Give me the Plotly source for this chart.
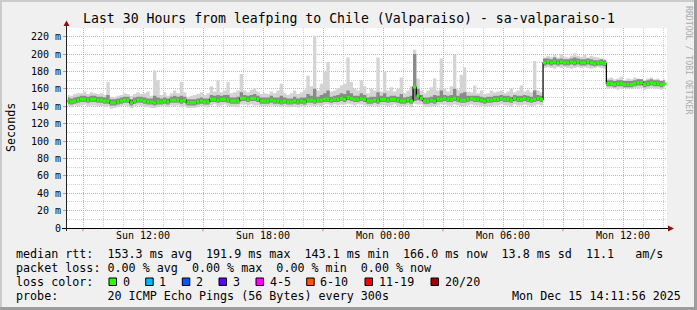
import pandas as pd
import plotly.graph_objects as go

# ---------------- data (10-minute samples, Sun 08:15 .. Mon 14:05) ----------------
START = "2025-12-14 08:15"
N = 180

median = [
    146, 145, 146, 147, 148, 148, 147, 148, 148, 147,
    147, 146, 146, 144, 144, 145, 146, 147, 147, 144,
    146, 147, 147, 146, 145, 145, 144, 145, 145, 146,
    145, 147, 147, 147, 146, 147, 144, 144, 144, 145,
    146, 145, 145, 148, 148, 147, 148, 148, 147, 146,
    146, 146, 149, 149, 148, 149, 149, 148, 146, 146,
    146, 147, 146, 146, 145, 146, 145, 145, 146, 145,
    146, 145, 147, 147, 146, 147, 147, 148, 148, 147,
    148, 148, 149, 148, 150, 149, 148, 148, 149, 148,
    146, 146, 147, 146, 148, 148, 147, 148, 148, 147,
    146, 146, 147, 146, 162, 152, 149, 146, 146, 147,
    146, 148, 148, 149, 148, 148, 149, 148, 147, 147,
    148, 149, 148, 148, 147, 146, 147, 147, 148, 148,
    149, 148, 148, 147, 149, 148, 148, 149, 148, 147,
    148, 149, 148,
    190, 191, 190, 191, 190, 191, 190, 190, 191,
    190, 191, 190, 190, 191, 190, 189, 190, 190, 189,
    166, 166, 165, 166, 166, 165, 165, 165, 166, 167,
    167, 165, 166, 167, 166, 166, 165, 166,
]

smoke_max = [
    153, 152, 154, 155, 155, 157, 154, 156, 155, 154,
    155, 153, 168, 151, 150, 152, 153, 155, 154, 152,
    154, 156, 154, 155, 157, 152, 181, 170, 153, 156,
    152, 155, 158, 155, 168, 156, 151, 152, 153, 154,
    156, 153, 155, 163, 157, 170, 156, 158, 168, 155,
    156, 158, 177, 158, 156, 159, 161, 157, 154, 155,
    154, 157, 155, 158, 166, 155, 153, 155, 158, 154,
    156, 159, 175, 163, 221, 158, 166, 180, 191, 157,
    158, 161, 164, 166, 196, 168, 160, 158, 170, 163,
    155, 160, 158, 196, 157, 180, 158, 162, 157, 160,
    173, 155, 158, 163, 205, 172, 158, 155, 158, 162,
    172, 158, 195, 160, 157, 163, 199, 159, 176, 185,
    157, 156, 164, 155, 158, 154, 155, 158, 156, 157,
    158, 155, 157, 160, 156, 158, 164, 157, 159, 156,
    192, 158, 156,
    196, 198, 197, 199, 196, 200, 197, 196, 198,
    201, 198, 197, 199, 196, 198, 197, 196, 195, 194,
    172, 173, 171, 172, 174, 170, 172, 171, 173, 172,
    171, 170, 172, 173, 171, 172, 170, 171,
]

smoke_min = [
    140, 139, 141, 140, 141, 142, 140, 141, 141, 140,
    140, 139, 140, 137, 138, 139, 140, 141, 140, 138,
    140, 141, 140, 139, 139, 138, 138, 139, 140, 140,
    139, 141, 140, 141, 139, 140, 138, 138, 138, 139,
    140, 139, 139, 141, 142, 140, 141, 142, 140, 140,
    140, 139, 142, 142, 141, 142, 141, 141, 140, 140,
    140, 141, 140, 140, 139, 140, 139, 139, 140, 139,
    140, 139, 141, 141, 140, 141, 140, 142, 142, 141,
    142, 141, 142, 142, 143, 142, 141, 142, 142, 141,
    140, 140, 141, 139, 141, 141, 140, 141, 142, 140,
    140, 140, 141, 139, 143, 142, 142, 140, 139, 140,
    140, 141, 142, 142, 141, 141, 142, 141, 140, 140,
    141, 142, 141, 141, 140, 139, 140, 140, 141, 141,
    142, 141, 141, 140, 142, 141, 141, 142, 141, 140,
    141, 142, 141,
    184, 185, 184, 183, 185, 184, 185, 184, 183,
    184, 185, 184, 185, 184, 183, 184, 185, 184, 183,
    160, 161, 160, 159, 160, 161, 160, 160, 161, 160,
    161, 159, 160, 161, 160, 160, 159, 160,
]

core_lo = [
    143, 142, 143, 144, 145, 145, 144, 145, 145, 144,
    144, 143, 143, 141, 141, 142, 143, 144, 144, 141,
    143, 144, 144, 143, 142, 142, 141, 142, 142, 143,
    142, 144, 144, 144, 143, 144, 141, 141, 141, 142,
    143, 142, 142, 145, 145, 144, 145, 145, 144, 143,
    143, 143, 146, 146, 145, 146, 146, 145, 143, 143,
    143, 144, 143, 143, 142, 143, 142, 142, 143, 142,
    143, 142, 144, 144, 143, 144, 144, 145, 145, 144,
    145, 145, 146, 145, 147, 146, 145, 145, 146, 145,
    143, 143, 144, 143, 145, 145, 144, 145, 145, 144,
    143, 143, 144, 143, 146, 147, 146, 143, 143, 144,
    143, 145, 145, 146, 145, 145, 146, 145, 144, 144,
    145, 146, 145, 145, 144, 143, 144, 144, 145, 145,
    146, 145, 145, 144, 146, 145, 145, 146, 145, 144,
    145, 146, 145,
    187, 188, 187, 188, 187, 188, 187, 187, 188,
    187, 188, 187, 187, 188, 187, 186, 187, 187, 186,
    163, 163, 162, 163, 163, 162, 162, 162, 163, 164,
    164, 162, 163, 164, 163, 163, 162, 163,
]

core_hi = [
    150, 149, 150, 151, 152, 152, 151, 152, 152, 151,
    151, 150, 153, 148, 148, 149, 150, 151, 151, 148,
    150, 151, 151, 150, 149, 149, 152, 150, 149, 150,
    149, 151, 152, 151, 152, 151, 148, 148, 148, 149,
    150, 149, 149, 153, 152, 153, 152, 153, 153, 150,
    150, 151, 156, 153, 152, 153, 154, 152, 150, 150,
    150, 152, 150, 150, 152, 150, 149, 149, 151, 149,
    150, 150, 154, 152, 160, 151, 153, 155, 158, 151,
    152, 153, 155, 154, 158, 155, 152, 152, 155, 153,
    150, 151, 151, 156, 152, 155, 151, 152, 152, 151,
    154, 150, 151, 152, 200, 160, 153, 150, 150, 151,
    153, 152, 158, 153, 152, 153, 160, 152, 155, 156,
    152, 152, 152, 152, 151, 150, 151, 151, 152, 152,
    153, 152, 152, 151, 153, 152, 152, 153, 152, 151,
    158, 153, 152,
    195, 195, 194, 196, 194, 195, 194, 194, 195,
    196, 195, 194, 194, 195, 194, 193, 193, 194, 193,
    170, 170, 169, 170, 170, 169, 169, 169, 170, 171,
    171, 169, 170, 171, 170, 170, 169, 170,
]

for arr in (median, smoke_max, smoke_min, core_lo, core_hi):
    assert len(arr) == N, len(arr)

times = pd.date_range(START, periods=N, freq="10min")

x_range = ["2025-12-14 08:11:56", "2025-12-15 14:11:56"]
x_tickvals = ["2025-12-14 09:00", "2025-12-14 12:00", "2025-12-14 15:00", "2025-12-14 18:00",
              "2025-12-14 21:00", "2025-12-15 00:00", "2025-12-15 03:00", "2025-12-15 06:00",
              "2025-12-15 09:00", "2025-12-15 12:00"]
x_ticktext = ["", "Sun 12:00", "", "Sun 18:00", "", "Mon 00:00", "", "Mon 06:00", "", "Mon 12:00"]
y_tickvals = [0, 20, 40, 60, 80, 100, 120, 140, 160, 180, 200, 220]
y_ticktext = ["0", "20 m", "40 m", "60 m", "80 m", "100 m", "120 m", "140 m",
              "160 m", "180 m", "200 m", "220 m"]

title_text = "Last 30 Hours from leafping to Chile (Valparaiso) - sa-valparaiso-1"
row_rtt = "median rtt:  153.3 ms avg  191.9 ms max  143.1 ms min  166.0 ms now  13.8 ms sd  11.1   am/s"
row_loss = "packet loss: 0.00 % avg  0.00 % max  0.00 % min  0.00 % now"
row_color = "loss color:"
row_probe = "probe:       20 ICMP Echo Pings (56 Bytes) every 300s"
date_text = "Mon Dec 15 14:11:56 2025"
loss_labels = ["0", "1", "2", "3", "4-5", "6-10", "11-19", "20/20"]
loss_colors = ["#26ff00", "#00b8ff", "#0059ff", "#5e00ff", "#ff00ff", "#ff5500", "#ff0000", "#a10000"]

# ---------------- layout geometry ----------------
W, H = 697, 310
L, R, T, B = 67, 30, 28, 82
PW, PH = W - L - R, H - T - B
MONO = "DejaVu Sans Mono"


def X(px):
    return (px - L) / PW


def Y(py):
    return (H - B - py) / PH


def nb(s):
    return s.replace(" ", "\u00a0")


fig = go.Figure()

# smoke: light outer band
fig.add_trace(go.Scatter(x=times, y=smoke_min, mode="lines", line=dict(width=0, shape="hvh"),
                         hoverinfo="skip", showlegend=False))
fig.add_trace(go.Scatter(x=times, y=smoke_max, mode="lines", line=dict(width=0, shape="hvh"),
                         fill="tonexty", fillcolor="#d4d4d4", hoverinfo="skip", showlegend=False))
# smoke: darker core band
fig.add_trace(go.Scatter(x=times, y=core_lo, mode="lines", line=dict(width=0, shape="hvh"),
                         hoverinfo="skip", showlegend=False))
fig.add_trace(go.Scatter(x=times, y=core_hi, mode="lines", line=dict(width=0, shape="hvh"),
                         fill="tonexty", fillcolor="#8a8a8a", hoverinfo="skip", showlegend=False))
# median line
fig.add_trace(go.Scatter(x=times, y=median, mode="lines", line=dict(width=1.2, color="#000000", shape="hvh"),
                         hoverinfo="skip", showlegend=False))
fig.add_trace(go.Scatter(x=times, y=median, mode="markers",
                         marker=dict(symbol="line-ew", size=2.4, line=dict(width=3, color=loss_colors[0])),
                         hoverinfo="skip", showlegend=False))

grid_dash = "1px,1px"
fig.update_layout(
    width=W, height=H, autosize=False,
    margin=dict(l=L, r=R, t=T, b=B, pad=0),
    paper_bgcolor="#f0f0f0", plot_bgcolor="#ffffff",
    showlegend=False,
    xaxis=dict(type="date", range=x_range, tickvals=x_tickvals, ticktext=x_ticktext,
               showgrid=True, gridcolor="#ff9a9a", gridwidth=1, griddash=grid_dash,
               ticks="",
               minor=dict(dtick=3600000, tick0="2025-12-14 00:00", showgrid=True, gridcolor="#cfcfcf",
                          griddash=grid_dash),
               showline=False, zeroline=False, fixedrange=True,
               tickfont=dict(family=MONO, size=10, color="#000000")),
    yaxis=dict(range=[0, 230], tickvals=y_tickvals, ticktext=y_ticktext,
               showgrid=True, gridcolor="#ff9a9a", gridwidth=1, griddash=grid_dash,
               ticks="outside", ticklen=3, tickcolor="#ff8080",
               minor=dict(dtick=10, showgrid=True, gridcolor="#cfcfcf", griddash=grid_dash),
               showline=False, zeroline=False, fixedrange=True,
               tickfont=dict(family=MONO, size=10, color="#000000")),
)

shapes = []
# frame shading
shapes.append(dict(type="rect", xref="paper", yref="paper", x0=X(0), x1=X(W), y0=Y(0), y1=Y(2),
                   fillcolor="#cbcbcb", line=dict(width=0), layer="above"))
shapes.append(dict(type="rect", xref="paper", yref="paper", x0=X(0), x1=X(2), y0=Y(0), y1=Y(H),
                   fillcolor="#cbcbcb", line=dict(width=0), layer="above"))
shapes.append(dict(type="rect", xref="paper", yref="paper", x0=X(0), x1=X(W), y0=Y(H - 3), y1=Y(H),
                   fillcolor="#9d9d9d", line=dict(width=0), layer="above"))
shapes.append(dict(type="rect", xref="paper", yref="paper", x0=X(W - 3), x1=X(W), y0=Y(0), y1=Y(H),
                   fillcolor="#9d9d9d", line=dict(width=0), layer="above"))
# small red tick marks under the time axis at the major grid lines
for tv in x_tickvals:
    shapes.append(dict(type="line", xref="x", yref="paper", x0=tv, x1=tv, y0=Y(228.5), y1=Y(231.5),
                       line=dict(color="#ff8080", width=1), layer="above"))
# axes
shapes.append(dict(type="line", xref="paper", yref="paper", x0=X(62), x1=X(669), y0=Y(228.5), y1=Y(228.5),
                   line=dict(color="#000000", width=1), layer="above"))
shapes.append(dict(type="line", xref="paper", yref="paper", x0=X(66.5), x1=X(66.5), y0=Y(231), y1=Y(25),
                   line=dict(color="#222222", width=1), layer="above"))
# arrows
shapes.append(dict(type="path", xref="paper", yref="paper",
                   path="M {} {} L {} {} L {} {} Z".format(X(668), Y(225.5), X(668), Y(231.5), X(674), Y(228.5)),
                   fillcolor="#8b1010", line=dict(width=0), layer="above"))
shapes.append(dict(type="path", xref="paper", yref="paper",
                   path="M {} {} L {} {} L {} {} Z".format(X(63.5), Y(26), X(69.5), Y(26), X(66.5), Y(20.5)),
                   fillcolor="#8b1010", line=dict(width=0), layer="above"))
# loss colour boxes
box_x = [109, 145.7, 182.3, 219, 256, 306.7, 365, 431]
for bx, col in zip(box_x, loss_colors):
    shapes.append(dict(type="rect", xref="paper", yref="paper", x0=X(bx), x1=X(bx + 7.5),
                       y0=Y(278), y1=Y(285.5), fillcolor=col, line=dict(color="#000000", width=1), layer="above"))
fig.update_layout(shapes=shapes)

ann = []


def text(px, py, s, size=11.7, anchor="left", color="#000000", angle=0):
    ann.append(dict(x=X(px), y=Y(py), xref="paper", yref="paper", text=nb(s), showarrow=False,
                    xanchor=anchor, yanchor="middle", textangle=angle, borderpad=0, borderwidth=0,
                    font=dict(family=MONO, size=size, color=color)))


text(348.5, 18.5, title_text, size=13.2, anchor="center")
text(10.5, 127.5, "Seconds", size=11.7, anchor="center", angle=-90)
text(689, 60, "RRDTOOL / TOBI OETIKER", size=8.2, anchor="center", color="#acacac", angle=90)
text(15.5, 254, row_rtt)
text(15.5, 268, row_loss)
text(15.5, 282, row_color)
text(15.5, 295.5, row_probe)
text(681, 295.5, date_text, anchor="right")
for bx, lab in zip(box_x, loss_labels):
    text(bx + 13.5, 282, lab)
fig.update_layout(annotations=ann)

fig.write_html("out.html")
